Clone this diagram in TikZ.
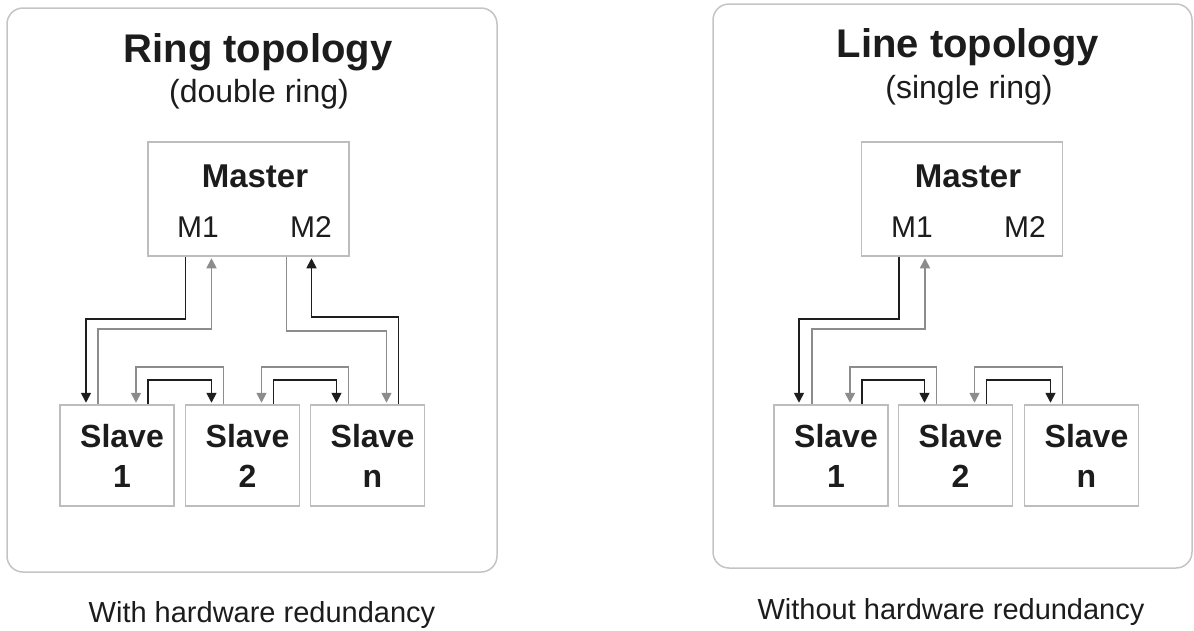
\documentclass[tikz,border=0pt]{standalone}
\usepackage{fontspec}
\setmainfont{Liberation Sans}
\usetikzlibrary{arrows.meta}

\definecolor{panelgray}{HTML}{C4C4C4}
\definecolor{boxgray}{HTML}{BDBDBD}
\definecolor{darkline}{HTML}{1E1E1E}
\definecolor{lightline}{HTML}{8C8C8C}
\definecolor{inkgray}{HTML}{1C1C1C}

\tikzset{
  panel/.style={draw=panelgray, line width=1.5pt, rounded corners=16pt},
  unitbox/.style={draw=boxgray, line width=1.5pt, inner sep=0pt},
  masterbox/.style={unitbox, minimum width=201pt, minimum height=114pt},
  slavebox/.style={unitbox, minimum width=114pt, minimum height=101pt, align=center,
    text=inkgray, font=\fontsize{32}{40}\selectfont\bfseries},
  title/.style={anchor=base, inner sep=0pt, text=inkgray, font=\fontsize{40}{48}\selectfont\bfseries},
  subtitle/.style={anchor=base, inner sep=0pt, text=inkgray, font=\fontsize{32}{38}\selectfont},
  mname/.style={anchor=base, inner sep=0pt, text=inkgray, font=\fontsize{33}{40}\selectfont\bfseries},
  port/.style={anchor=base, inner sep=0pt, text=inkgray, font=\fontsize{30}{36}\selectfont},
  caption/.style={anchor=base, inner sep=0pt, text=inkgray, font=\fontsize{29}{35}\selectfont},
  fwd/.style={draw=darkline, line width=1.7pt, shorten >=1.5pt, -{Triangle[width=10pt,length=10pt]}},
  bwd/.style={draw=lightline, line width=1.7pt, shorten >=1.5pt, -{Triangle[width=10pt,length=10pt]}}
}

\begin{document}
\begin{tikzpicture}[x=1pt, y=-1pt]
\useasboundingbox (0,0) rectangle (1194,630);

%% Ring topology (left)

% frame
\draw [panel] (7,8) rectangle (497,572);
\node [title] (ringtitle) at (258,62) {Ring topology};
\node [subtitle] (ringsub) at (259,102) {(double ring)};

% master
\node [masterbox] (mL) at (248.5,199) {};
\node [mname] (mLname) at (255,187) {Master};
\node [port] (mLone) at (198,237) {M1};
\node [port] (mLtwo) at (311,237) {M2};

% slaves
\node [slavebox] (s1) at (117,455.5) {\hspace*{10pt}Slave\\\hspace*{10pt}1};
\node [slavebox] (s2) at (242.5,455.5) {\hspace*{10pt}Slave\\\hspace*{10pt}2};
\node [slavebox] (sn) at (367.5,455.5) {\hspace*{10pt}Slave\\\hspace*{10pt}n};

% M1 <-> slave 1
\draw [fwd] ([xshift=-63pt]mL.south) -- ++(0,62) -| ([xshift=-31pt]s1.north);
\draw [bwd] ([xshift=-19pt]s1.north) -- ++(0,-75) -| ([xshift=-37pt]mL.south);

% M2 <-> slave n
\draw [bwd] ([xshift=38pt]mL.south) -- ++(0,74) -| ([xshift=19pt]sn.north);
\draw [fwd] ([xshift=31pt]sn.north) -- ++(0,-87) -| ([xshift=63pt]mL.south);

% slave to slave
\draw [fwd] ([xshift=31pt]s1.north) -- ++(0,-24) -| ([xshift=-31pt]s2.north);
\draw [bwd] ([xshift=-19pt]s2.north) -- ++(0,-37) -| ([xshift=19pt]s1.north);
\draw [fwd] ([xshift=31pt]s2.north) -- ++(0,-24) -| ([xshift=-31pt]sn.north);
\draw [bwd] ([xshift=-19pt]sn.north) -- ++(0,-37) -| ([xshift=19pt]s2.north);

\node [caption] (ringcap) at (262,622) {With hardware redundancy};

%% Line topology (right)

% frame
\draw [panel] (713,4) rectangle (1192,568);
\node [title] (linetitle) at (968,57) {Line topology};
\node [subtitle] (linesub) at (969,98) {(single ring)};

% master
\node [masterbox] (mR) at (962,199) {};
\node [mname] (mRname) at (968,187) {Master};
\node [port] (mRone) at (912,237) {M1};
\node [port] (mRtwo) at (1025,237) {M2};

% slaves
\node [slavebox] (t1) at (831,455.5) {\hspace*{10pt}Slave\\\hspace*{10pt}1};
\node [slavebox] (t2) at (955.5,455.5) {\hspace*{10pt}Slave\\\hspace*{10pt}2};
\node [slavebox] (tn) at (1081.5,455.5) {\hspace*{10pt}Slave\\\hspace*{10pt}n};

% M1 <-> slave 1
\draw [fwd] ([xshift=-63pt]mR.south) -- ++(0,62) -| ([xshift=-32pt]t1.north);
\draw [bwd] ([xshift=-19pt]t1.north) -- ++(0,-75) -| ([xshift=-37pt]mR.south);

% slave to slave
\draw [fwd] ([xshift=31pt]t1.north) -- ++(0,-24) -| ([xshift=-31pt]t2.north);
\draw [bwd] ([xshift=-19pt]t2.north) -- ++(0,-37) -| ([xshift=19pt]t1.north);
\draw [fwd] ([xshift=31pt]t2.north) -- ++(0,-24) -| ([xshift=-31pt]tn.north);
\draw [bwd] ([xshift=-19pt]tn.north) -- ++(0,-37) -| ([xshift=19pt]t2.north);

\node [caption] (linecap) at (951,619) {Without hardware redundancy};

\end{tikzpicture}
\end{document}
